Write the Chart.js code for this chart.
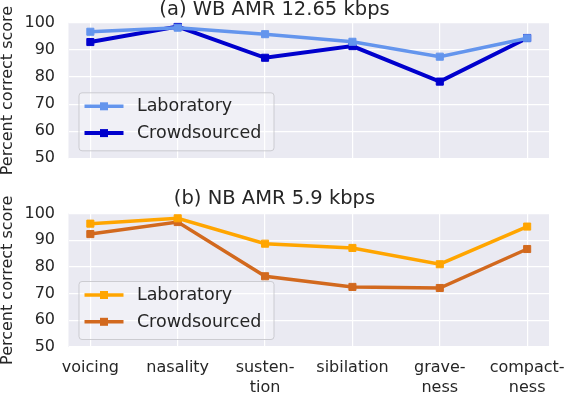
<!DOCTYPE html>
<html><head><meta charset="utf-8">
<script src="https://cdn.jsdelivr.net/npm/chart.js@4"></script>
<style>
html,body{margin:0;padding:0;background:#fff;}
#wrap{position:relative;width:566px;height:394px;overflow:hidden;}
canvas{position:absolute;left:0;}
</style></head><body>
<div id="wrap">
<canvas id="c1" width="566" height="178" style="top:0px"></canvas>
<canvas id="c2" width="566" height="216" style="top:178px"></canvas>
</div>
<script>
// ---- data ----
const categories = ["voicing","nasality","sustention","sibilation","graveness","compactness"];
const tickLabels = [["voicing"],["nasality"],["susten-","tion"],["sibilation"],["grave-","ness"],["compact-","ness"]];
const yTicks = [50,60,70,80,90,100];
const seriesNames = ["Laboratory","Crowdsourced"];
const titles = ["(a) WB AMR 12.65 kbps","(b) NB AMR 5.9 kbps"];
const wbLab   = [96.7, 98.2, 95.8, 93.0, 87.5, 94.3];
const wbCrowd = [92.9, 98.6, 87.1, 91.4, 78.3, 94.4];
const nbLab   = [96.2, 98.2, 88.7, 87.1, 81.0, 95.1];
const nbCrowd = [92.3, 96.8, 76.5, 72.5, 72.1, 86.7];

Chart.defaults.font.family = "'DejaVu Sans', sans-serif";
Chart.defaults.color = '#262626';

const boxLegend = {
  id: 'boxLegend',
  afterDatasetsDraw(chart) {
    const {ctx, chartArea: a} = chart;
    const w = 195, h = 58;
    const x0 = a.left + 10, y0 = a.bottom - 8 - h;
    ctx.save();
    ctx.beginPath();
    ctx.roundRect(x0 + 0.5, y0 + 0.5, w, h, 3);
    ctx.fillStyle = 'rgba(255,255,255,0.3)';
    ctx.fill();
    ctx.strokeStyle = 'rgba(200,200,205,0.9)';
    ctx.lineWidth = 1;
    ctx.stroke();
    chart.data.datasets.forEach((ds, i) => {
      const cy = y0 + 14 + i * 26.8;
      ctx.beginPath();
      ctx.moveTo(x0 + 6, cy);
      ctx.lineTo(x0 + 45, cy);
      ctx.strokeStyle = ds.borderColor;
      ctx.lineWidth = ds.borderWidth;
      ctx.stroke();
      ctx.fillStyle = ds.borderColor;
      ctx.fillRect(x0 + 25.5 - 4, cy - 4, 8, 8);
      ctx.fillStyle = '#262626';
      ctx.font = "17.5px 'DejaVu Sans'";
      ctx.textBaseline = 'middle';
      ctx.textAlign = 'left';
      ctx.fillText(ds.label, x0 + 58.4, cy + 0.5);
    });
    ctx.restore();
  }
};

const bgPlugin = {
  id: 'plotBg',
  beforeDraw(chart) {
    const {ctx, chartArea: a} = chart;
    ctx.save();
    ctx.fillStyle = '#EAEAF2';
    ctx.fillRect(a.left, a.top, a.right - a.left, a.bottom - a.top);
    ctx.restore();
  }
};

function makeChart(id, title, lab, crowd, labColor, crowdColor, labW, crowdW, showX, titlePad, xHeight) {
  const ds = (name, vals, color, bw) => ({
    label: name,
    data: vals.map((v, i) => ({x: i, y: v})),
    borderColor: color,
    backgroundColor: color,
    borderWidth: bw,
    pointStyle: 'rect',
    pointRadius: 5,
    pointBorderWidth: 1,
    pointBackgroundColor: color,
    pointBorderColor: color,
    tension: 0
  });
  return new Chart(document.getElementById(id), {
    type: 'line',
    data: { datasets: [ds(seriesNames[0], lab, labColor, labW), ds(seriesNames[1], crowd, crowdColor, crowdW)] },
    plugins: [bgPlugin, boxLegend],
    options: {
      responsive: false,
      devicePixelRatio: 1,
      animation: false,
      layout: { autoPadding: false, padding: { left: 0, right: 17, top: 0, bottom: 0 } },
      plugins: {
        legend: { display: false },
        tooltip: { enabled: false },
        title: { display: true, text: title, font: { size: 19.5, lineHeight: 1, weight: 'normal' }, color: '#262626', padding: titlePad }
      },
      scales: {
        x: {
          type: 'linear', min: -0.25, max: 5.25,
          afterBuildTicks: (ax) => { ax.ticks = categories.map((c, i) => ({value: i})); },
          afterFit: (ax) => { ax.height = xHeight; ax.paddingLeft = 0; ax.paddingRight = 0; },
          grid: { color: '#ffffff', lineWidth: 1.2, drawTicks: false },
          border: { display: false },
          ticks: {
            display: showX, padding: 11, autoSkip: false, maxRotation: 0,
            font: { size: 16, lineHeight: 1.25 }, color: '#262626',
            callback: (v) => tickLabels[v]
          }
        },
        y: {
          min: 50, max: 100,
          afterBuildTicks: (ax) => { ax.ticks = yTicks.map(v => ({value: v})); },
          afterFit: (ax) => { ax.width = 68.5; ax.paddingTop = 0; ax.paddingBottom = 0; },
          grid: { color: '#ffffff', lineWidth: 1.2, drawTicks: false },
          border: { display: false },
          ticks: { padding: 13.5, font: { size: 16 }, color: '#262626' },
          title: { display: true, text: 'Percent correct score', font: { size: 16, lineHeight: 1 }, padding: 0, color: '#262626' }
        }
      }
    }
  });
}

makeChart('c1', titles[0], wbLab, wbCrowd, '#6495ED', '#0000CD', 3.5, 4, false, {top: 0, bottom: 3.3}, 19.7);
makeChart('c2', titles[1], nbLab, nbCrowd, '#FFA500', '#D2691E', 3.5, 3.5, true, {top: 11, bottom: 5}, 47);
</script>
</body></html>
